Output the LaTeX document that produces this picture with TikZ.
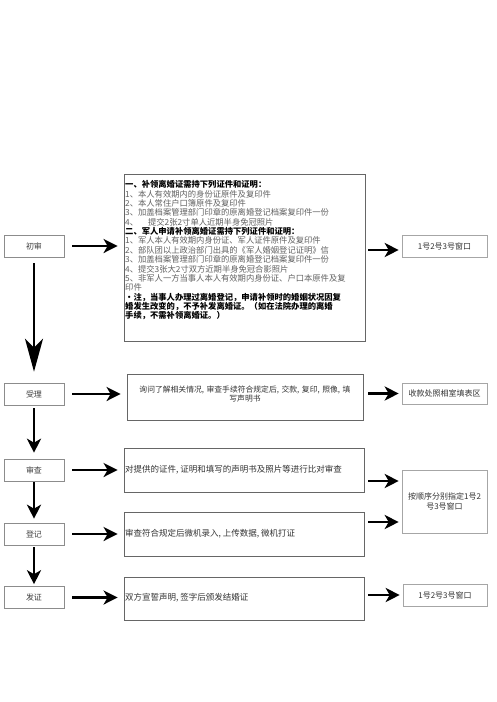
\documentclass[tikz,border=0pt]{standalone}
\usepackage{fontspec}
\newfontfamily\cjk{Noto Sans CJK SC}
\usetikzlibrary{arrows.meta}
\definecolor{itemgray}{gray}{0.38}
\begin{document}
\begin{tikzpicture}[x=1pt,y=-1pt,
  lbox/.style={draw=black!45, line width=0.6pt, minimum width=60pt, minimum height=22pt, inner sep=0pt, font=\cjk\fontsize{8}{9}\selectfont, text=black!75},
  mbox/.style={draw=black!60, line width=0.8pt, inner sep=0pt},
  rbox/.style={draw=black!35, line width=0.6pt, inner sep=0pt, font=\cjk\fontsize{8}{10}\selectfont, text=black!80, align=center},
  mtext/.style={inner sep=0pt, font=\cjk\fontsize{8.5}{9.5}\selectfont, text=black!80},
  arr/.style={line width=2.5pt, -{Stealth[length=14pt,width=14pt,inset=4pt]}},
  bigarr/.style={line width=2.5pt, -{Stealth[length=33pt,width=18pt,inset=9pt]}}
]
\useasboundingbox (0,0) rectangle (496,702);
\fill[white] (0,0) rectangle (496,702);

% left boxes
\node[lbox] (l1) at (34,246) {初审};
\node[lbox] (l2) at (34,394) {受理};
\node[lbox] (l3) at (34,470) {审查};
\node[lbox] (l4) at (34,534) {登记};
\node[lbox] (l5) at (34,597.5) {发证};

% middle boxes
\node[mbox, minimum width=241pt, minimum height=167pt] (m1) at (244.5,257.5) {};
\node[mbox, minimum width=236pt, minimum height=46pt] (m2) at (245,397) {};
\node[mbox, minimum width=240pt, minimum height=44pt] (m3) at (244,470) {};
\node[mbox, minimum width=240pt, minimum height=44pt] (m4) at (244,534) {};
\node[mbox, minimum width=240pt, minimum height=43pt] (m5) at (244,598.5) {};

\node[anchor=north west, inner sep=0pt, align=left, font=\cjk\fontsize{8.3}{9.35}\selectfont, text=itemgray] (t1) at (125,180.5) {%
{\color{black}\bfseries 一、补领离婚证需持下列证件和证明：}\\
1、本人有效期内的身份证原件及复印件\\
2、本人常住户口簿原件及复印件\\
3、加盖档案管理部门印章的原离婚登记档案复印件一份\\
4、\hspace{10pt}提交2张2寸单人近期半身免冠照片\\
{\color{black}\bfseries 二、军人申请补领离婚证需持下列证件和证明：}\\
1、军人本人有效期内身份证、军人证件原件及复印件\\
2、部队团以上政治部门出具的《军人婚姻登记证明》信\\
3、加盖档案管理部门印章的原离婚登记档案复印件一份\\
4、提交3张大2寸双方近期半身免冠合影照片\\
5、非军人一方当事人本人有效期内身份证、户口本原件及复\\
印件\\
{\color{black}\bfseries •注，当事人办理过离婚登记，申请补领时的婚姻状况因复}\\
{\color{black}\bfseries 婚发生改变的，不予补发离婚证。（如在法院办理的离婚}\\
{\color{black}\bfseries 手续，不需补领离婚证。）}};

\node[mtext, align=center, text width=232pt, font=\cjk\fontsize{7.8}{8.5}\selectfont] (t2) at (245,394) {询问了解相关情况, 审查手续符合规定后, 交款, 复印, 照像, 填\\写声明书};
\node[mtext, anchor=west] (t3) at (125,470) {对提供的证件, 证明和填写的声明书及照片等进行比对审查};
\node[mtext, anchor=west] (t4) at (125,534) {审查符合规定后微机录入, 上传数据, 微机打证};
\node[mtext, anchor=west] (t5) at (125,598) {双方宣誓声明, 签字后颁发结婚证};

% right boxes
\node[rbox, minimum width=85pt, minimum height=22pt] (r1) at (444.5,246) {1号2号3号窗口};
\node[rbox, minimum width=85pt, minimum height=21pt] (r2) at (444.5,393.5) {收款处照相室填表区};
\node[rbox, minimum width=85pt, minimum height=63pt, text width=83pt] (r3) at (444.5,501.5) {按顺序分别指定1号2\\号3号窗口};
\node[rbox, minimum width=84pt, minimum height=22pt] (r4) at (445,595) {1号2号3号窗口};

% left -> middle arrows
\foreach \i in {1,...,5}{
  \draw[arr, shorten <=8pt, shorten >=6pt] (l\i.east) -- (m\i.west |- l\i.east);
}

% vertical arrows
\draw[bigarr, shorten <=6pt, shorten >=11pt] (l1.south) -- (l2.north);
\draw[arr, shorten <=3pt, shorten >=6pt] (l2.south) -- (l3.north);
\draw[arr, shorten <=1pt, shorten >=4pt] (l3.south) -- (l4.north);
\draw[arr, shorten <=2pt, shorten >=2pt] (l4.south) -- (l5.north);

% middle -> right arrows
\coordinate (p1) at ([yshift=-4pt]r1.west);
\draw[arr, shorten <=3pt, shorten >=3pt] (m1.east |- p1) -- (p1);
\draw[arr, shorten <=5pt, shorten >=3pt] (m2.east |- r2.west) -- (r2.west);
\coordinate (p3) at ([yshift=-11pt]m3.east);
\draw[arr, shorten <=4pt, shorten >=3pt] (p3) -- (r3.west |- p3);
\coordinate (p4) at ([yshift=12pt]m4.east);
\draw[arr, shorten <=4pt, shorten >=3pt] (p4) -- (r3.west |- p4);
\draw[arr, shorten <=4pt, shorten >=3pt] (m5.east |- r4.west) -- (r4.west);
\end{tikzpicture}
\end{document}
